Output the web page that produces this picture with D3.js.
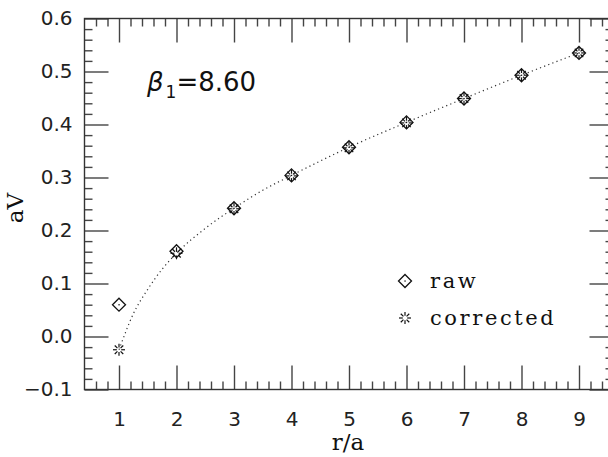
<!DOCTYPE html>
<html>
<head>
<meta charset="utf-8">
<script src="https://cdn.jsdelivr.net/npm/d3@7"></script>
<style>
	body { margin: 0; background: #fff; }
	svg { display: block; }
	.tick text { font-family: "DejaVu Sans", sans-serif; font-size: 20px; fill: #222; }
	.tick line { stroke: #444; stroke-width: 1.4px; }
</style>
</head>
<body>
<svg id="chart" width="608" height="457"></svg>
<script>
// data
var rValues = [1, 2, 3, 4, 5, 6, 7, 8, 9];
var rawV = [0.060, 0.161, 0.242, 0.304, 0.357, 0.404, 0.449, 0.493, 0.535];
var correctedV = [-0.025, 0.157, 0.241, 0.303, 0.356, 0.403, 0.449, 0.493, 0.535];

// dotted fit curve
var fitR = [1, 1.25, 1.5, 1.75, 2, 2.5, 3, 3.5, 4, 5, 6, 7, 8, 9];
var fitV = [-0.025, 0.043, 0.089, 0.127, 0.157, 0.204, 0.242, 0.276, 0.304, 0.357, 0.404, 0.449, 0.493, 0.535];

var xTicks = [1, 2, 3, 4, 5, 6, 7, 8, 9];
var yTicks = [-0.1, 0.0, 0.1, 0.2, 0.3, 0.4, 0.5, 0.6];

var svg = d3.select("#chart");

var x = d3.scaleLinear().domain([0.4, 9.6]).range([84.5, 613.5]);
var y = d3.scaleLinear().domain([-0.1, 0.6]).range([389.5, 18.5]);

var MAJOR = 24, MINOR = 8;

var xMinor = d3.range(0.6, 9.5, 0.2).filter(function(v) { return Math.abs(v - Math.round(v)) > 0.05; });
var yMinor = d3.range(-0.08, 0.6, 0.02).filter(function(v) { return Math.abs(v * 10 - Math.round(v * 10)) > 0.05; });

function addAxis(axisFn, scale, transform, major, minor, labels, fmt, pad)
{
	var g = svg.append("g").attr("transform", transform);
	g.call(axisFn(scale).tickValues(minor).tickSize(-MINOR).tickFormat(""));
	g.select(".domain").remove();
	var g2 = svg.append("g").attr("transform", transform);
	g2.call(axisFn(scale).tickValues(major).tickSize(-MAJOR).tickPadding(pad)
		.tickFormat(labels ? fmt : ""));
	g2.select(".domain").remove();
	return g2;
}

var fmtY = function(d) { return d < 0 ? "\u22120.1" : d3.format(".1f")(d); };

addAxis(d3.axisBottom, x, "translate(0,389.5)", xTicks, xMinor, true, d3.format("d"), 22);
addAxis(d3.axisTop, x, "translate(0,18.5)", xTicks, xMinor, false, null, 0);
addAxis(d3.axisLeft, y, "translate(84.5,0)", yTicks, yMinor, true, fmtY, 12);
addAxis(d3.axisRight, y, "translate(613.5,0)", yTicks, yMinor, false, null, 0);

// frame
svg.append("rect")
	.attr("x", 84.5).attr("y", 18.5)
	.attr("width", 529).attr("height", 371)
	.attr("fill", "none")
	.attr("stroke", "#333")
	.attr("stroke-width", 1.4);

// fit curve
var line = d3.line()
	.x(function(d, i) { return x(fitR[i]); })
	.y(function(d) { return y(d); })
	.curve(d3.curveMonotoneX);

svg.append("path")
	.attr("d", line(fitV))
	.attr("fill", "none")
	.attr("stroke", "#333")
	.attr("stroke-width", 1.2)
	.attr("stroke-dasharray", "1.2,3.2");

// markers
function drawDiamond(g, cx, cy)
{
	var s = 6.5;
	g.append("path")
		.attr("d", "M" + cx + "," + (cy - s) + "L" + (cx + s) + "," + cy + "L" + cx + "," + (cy + s) + "L" + (cx - s) + "," + cy + "Z")
		.attr("fill", "none").attr("stroke", "#111").attr("stroke-width", 1.3);
	g.append("rect").attr("x", cx - 0.6).attr("y", cy - 0.6).attr("width", 1.3).attr("height", 1.3).attr("fill", "#111");
}

function drawStar(g, cx, cy)
{
	for (var k = 0; k < 8; k++) {
		var a = k * Math.PI / 4;
		var r0 = 2.2, r1 = 6;
		g.append("line")
			.attr("x1", cx + r0 * Math.cos(a)).attr("y1", cy + r0 * Math.sin(a))
			.attr("x2", cx + r1 * Math.cos(a)).attr("y2", cy + r1 * Math.sin(a))
			.attr("stroke", "#111").attr("stroke-width", 1.2);
	}
}

var marks = svg.append("g");
rValues.forEach(function(r, i) {
	drawDiamond(marks, x(r), y(rawV[i]));
	drawStar(marks, x(r), y(correctedV[i]));
});

// legend
var leg = svg.append("g");
drawDiamond(leg, 405, 281);
drawStar(leg, 405, 318);
leg.append("text").attr("x", 430).attr("y", 288)
	.attr("font-family", "DejaVu Serif, serif").attr("font-size", 21)
	.attr("letter-spacing", 2.6)
	.attr("fill", "#111")
	.text("raw");
leg.append("text").attr("x", 430).attr("y", 325)
	.attr("font-family", "DejaVu Serif, serif").attr("font-size", 21)
	.attr("letter-spacing", 2.6)
	.attr("fill", "#111")
	.text("corrected");

// annotation
var ann = svg.append("text").attr("x", 147).attr("y", 91)
	.attr("font-family", "DejaVu Sans, sans-serif").attr("font-size", 26).attr("fill", "#111");
ann.append("tspan").attr("font-style", "italic").text("\u03b2");
ann.append("tspan").attr("font-size", 17).attr("dy", 7).attr("dx", 2).text("1");
ann.append("tspan").attr("dy", -7).text("=8.60");

// axis titles
svg.append("text")
	.attr("x", 348).attr("y", 450)
	.attr("text-anchor", "middle")
	.attr("font-family", "DejaVu Serif, serif").attr("font-size", 23)
	.attr("fill", "#111")
	.text("r/a");

svg.append("text")
	.attr("transform", "translate(23,208) rotate(-90)")
	.attr("text-anchor", "middle")
	.attr("font-family", "DejaVu Serif, serif").attr("font-size", 23)
	.attr("fill", "#111")
	.text("aV");
</script>
</body>
</html>
